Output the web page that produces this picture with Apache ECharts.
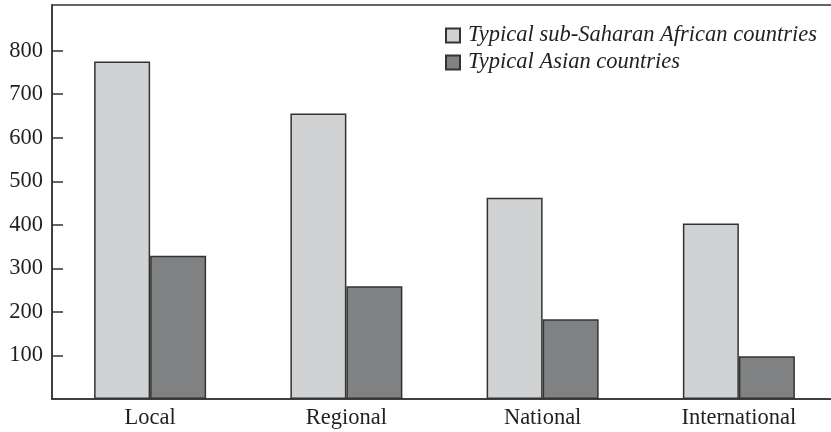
<!DOCTYPE html>
<html>
<head>
<meta charset="utf-8">
<script src="https://cdn.jsdelivr.net/npm/echarts@6/dist/echarts.min.js"></script>
<style>html,body{margin:0;padding:0;background:#fff;overflow:hidden;}#c{width:837px;height:432px;}</style>
</head>
<body>
<div id="c"></div>
<script>
var categories = ['Local', 'Regional', 'National', 'International'];
var africaValues = [775, 656, 462, 403];
var asiaValues = [329, 259, 183, 98];
var yTicks = [100, 200, 300, 400, 500, 600, 700, 800];
var seriesNames = ['Typical sub-Saharan African countries', 'Typical Asian countries'];

var chart = echarts.init(document.getElementById('c'), null, {renderer: 'canvas'});
var txt = '#231f20';
var font = 'Liberation Serif';
var fs = 22.5;
chart.setOption({
  animation: false,
  backgroundColor: '#ffffff',
  grid: {left: 52, right: 0, top: 5, bottom: 33, show: true, borderColor: '#333', borderWidth: 1.5, backgroundColor: 'transparent'},
  legend: {
    orient: 'vertical', left: 445, top: 24, padding: 0, itemWidth: 14, itemHeight: 14, itemGap: 4,
    icon: 'rect',
    textStyle: {fontFamily: font, fontStyle: 'italic', fontSize: fs, color: txt, padding: [0, 0, 0, 3]},
    data: seriesNames
  },
  xAxis: {
    type: 'category', data: categories,
    axisLine: {lineStyle: {color: '#333', width: 1.5}},
    axisTick: {show: false},
    axisLabel: {fontFamily: font, fontSize: fs, color: txt, margin: 8}
  },
  yAxis: {
    type: 'value', min: 0, max: 905, interval: 100,
    splitLine: {show: false},
    axisLine: {show: true, lineStyle: {color: '#333', width: 1.5}},
    axisTick: {show: true, inside: true, length: 11, lineStyle: {color: '#333', width: 1.5}, customValues: yTicks},
    axisLabel: {fontFamily: font, fontSize: fs, color: txt, margin: 9, customValues: yTicks}
  },
  series: [
    {name: seriesNames[0], type: 'bar', data: africaValues, barWidth: 56, barGap: '0%',
     itemStyle: {color: '#d1d2d4', borderColor: '#333', borderWidth: 1.5}},
    {name: seriesNames[1], type: 'bar', data: asiaValues, barWidth: 56, barGap: '0%',
     itemStyle: {color: '#808183', borderColor: '#333', borderWidth: 1.5}}
  ]
});
</script>
</body>
</html>
